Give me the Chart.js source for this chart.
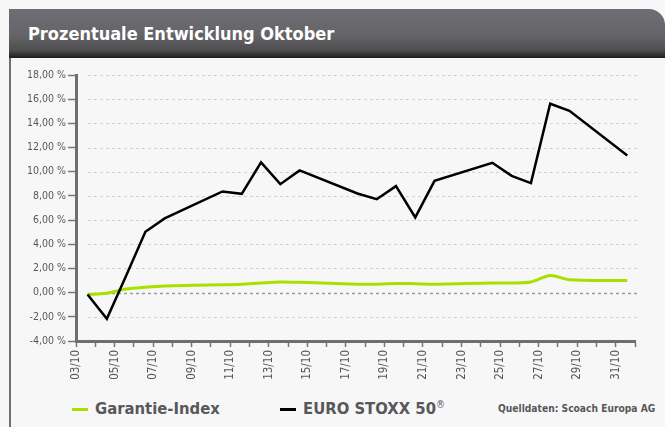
<!DOCTYPE html>
<html>
<head>
<meta charset="utf-8">
<script src="https://cdn.jsdelivr.net/npm/chart.js@4"></script>
<style>
  html, body { margin: 0; padding: 0; }
  body { width: 665px; height: 427px; background: #f7f7f7; position: relative; overflow: hidden;
         font-family: "DejaVu Sans Condensed", "Liberation Sans Narrow", sans-serif; }
  .title { position: absolute; left: 9px; top: 9px; width: 656px; height: 49px; box-sizing: border-box;
           border-top-right-radius: 16px; padding-left: 19px; line-height: 49px;
           background: linear-gradient(#6f6e73 0%, #646367 55%, #4d4d50 85%, #1c1c1c 100%);
           color: #fff; font-weight: bold; font-size: 18px; }
  .frame { position: absolute; left: 9px; top: 58px; width: 2px; height: 369px; background: #707070; }
  .chart-box { position: absolute; left: 12px; top: 60px; width: 653px; height: 330px; }
  .legend { position: absolute; top: 398px; height: 22px; line-height: 22px; color: #58585a;
            font-weight: bold; font-size: 16.5px; white-space: nowrap; }
  .legend .swatch { display: inline-block; width: 16px; height: 3px; vertical-align: middle; margin-right: 7px; }
  .legend sup { font-size: 10px; font-weight: normal; vertical-align: 6px; line-height: 0; }
  .source { position: absolute; left: 498px; top: 403px; font-size: 10.2px; font-weight: bold; color: #58585a; }
</style>
</head>
<body>
<div class="title">Prozentuale Entwicklung Oktober</div>
<div class="frame"></div>
<div class="chart-box"><canvas id="perf-chart"></canvas></div>
<div id="legend"></div>
<div class="source">Quelldaten: Scoach Europa AG</div>

<script>
// calendar days on the x axis (03/10 .. 01/11), every other one is labelled
const calendarDays = ['03/10','04/10','05/10','06/10','07/10','08/10','09/10','10/10','11/10','12/10',
  '13/10','14/10','15/10','16/10','17/10','18/10','19/10','20/10','21/10','22/10','23/10','24/10',
  '25/10','26/10','27/10','28/10','29/10','30/10','31/10','01/11'];

// trading days (day of October) with closing values in %
const tradingDays = [3, 4, 5, 6, 7, 10, 11, 12, 13, 14, 17, 18, 19, 20, 21, 24, 25, 26, 27, 28, 31];
const garantieIndex = [-0.15, -0.05, 0.3, 0.45, 0.55, 0.65, 0.7, 0.8, 0.88, 0.85, 0.7, 0.7, 0.76,
  0.74, 0.7, 0.8, 0.8, 0.88, 1.42, 1.06, 1.0];
const euroStoxx = [-0.15, -2.17, 1.4, 5.03, 6.14, 8.37, 8.17, 10.77, 8.97, 10.11, 8.2, 7.73, 8.81,
  6.22, 9.25, 10.74, 9.66, 9.06, 15.62, 15.04, 11.35];

const seriesNames = ['Garantie-Index', 'EURO STOXX 50\u00AE'];
const seriesColors = ['#a8e000', '#000000'];

// closing prices sit a bit after the day tick
const CLOSE_OFFSET = 0.6;
const FIRST_DAY = 3;

const toPoints = vals => tradingDays.map((d, i) => ({ x: d + CLOSE_OFFSET, y: vals[i] }));

// dashed horizontal guides, inset from the y axis like the original
const dashedGrid = {
    id: 'dashedGrid',
    beforeDatasetsDraw(chart) {
        const { ctx, chartArea, scales: { y } } = chart;
        ctx.save();
        ctx.setLineDash([3, 3]);
        y.ticks.forEach(t => {
            if (t.value === y.min) return;
            const py = Math.round(y.getPixelForValue(t.value)) + 0.5;
            ctx.strokeStyle = t.value === 0 ? '#9a9a9a' : '#d2d2d2';
            ctx.lineWidth = t.value === 0 ? 1.5 : 1;
            ctx.beginPath();
            ctx.moveTo(chartArea.left + 12, py);
            ctx.lineTo(chartArea.right + 2, py);
            ctx.stroke();
        });
        ctx.restore();
    }
};

const chart = new Chart(document.getElementById('perf-chart'), {
    type: 'line',
    data: {
        datasets: [{
            label: seriesNames[0],
            data: toPoints(garantieIndex),
            borderColor: seriesColors[0],
            borderWidth: 3,
            tension: 0.3,
            pointRadius: 0,
            order: 2
        }, {
            label: seriesNames[1],
            data: toPoints(euroStoxx),
            borderColor: seriesColors[1],
            borderWidth: 2.5,
            tension: 0,
            pointRadius: 0,
            order: 1
        }]
    },
    options: {
        responsive: true,
        maintainAspectRatio: false,
        animation: false,
        layout: { padding: { top: 15, right: 30 } },
        plugins: {
            legend: { display: false },
            tooltip: { enabled: false }
        },
        scales: {
            x: {
                type: 'linear',
                min: FIRST_DAY,
                max: FIRST_DAY + calendarDays.length - 1,
                afterFit: s => { s.height = 49; },
                ticks: {
                    stepSize: 1,
                    autoSkip: false,
                    maxRotation: 90,
                    minRotation: 90,
                    padding: 3,
                    color: '#58585a',
                    font: { family: 'DejaVu Sans Condensed', size: 11.5 },
                    callback: v => {
                        const i = v - FIRST_DAY;
                        return (i % 2 === 0 && i < calendarDays.length - 1) ? calendarDays[i] : '';
                    }
                },
                grid: { drawOnChartArea: false, tickLength: 6, tickColor: '#777', tickWidth: 1.5 },
                border: { color: '#6e6e6e', width: 3 }
            },
            y: {
                min: -4,
                max: 18,
                afterFit: s => { s.width = 64; },
                ticks: {
                    stepSize: 2,
                    padding: 2,
                    color: '#58585a',
                    font: { family: 'DejaVu Sans Condensed', size: 10.5 },
                    callback: v => v.toFixed(2).replace('.', ',') + ' %'
                },
                grid: {
                    drawOnChartArea: false,
                    tickLength: 8,
                    tickColor: '#777',
                    tickWidth: 1.5
                },
                border: { color: '#6e6e6e', width: 3 }
            }
        }
    },
    plugins: [dashedGrid]
});

// html legend built from the datasets
const legendLeft = [72, 280];
const legendEl = document.getElementById('legend');
chart.data.datasets.forEach((ds, i) => {
    const item = document.createElement('div');
    item.className = 'legend';
    item.style.left = legendLeft[i] + 'px';
    item.innerHTML = '<span class="swatch" style="background:' + ds.borderColor + '"></span>' +
        ds.label.replace('\u00AE', '<sup>\u00AE</sup>');
    legendEl.appendChild(item);
});
</script>
</body>
</html>
